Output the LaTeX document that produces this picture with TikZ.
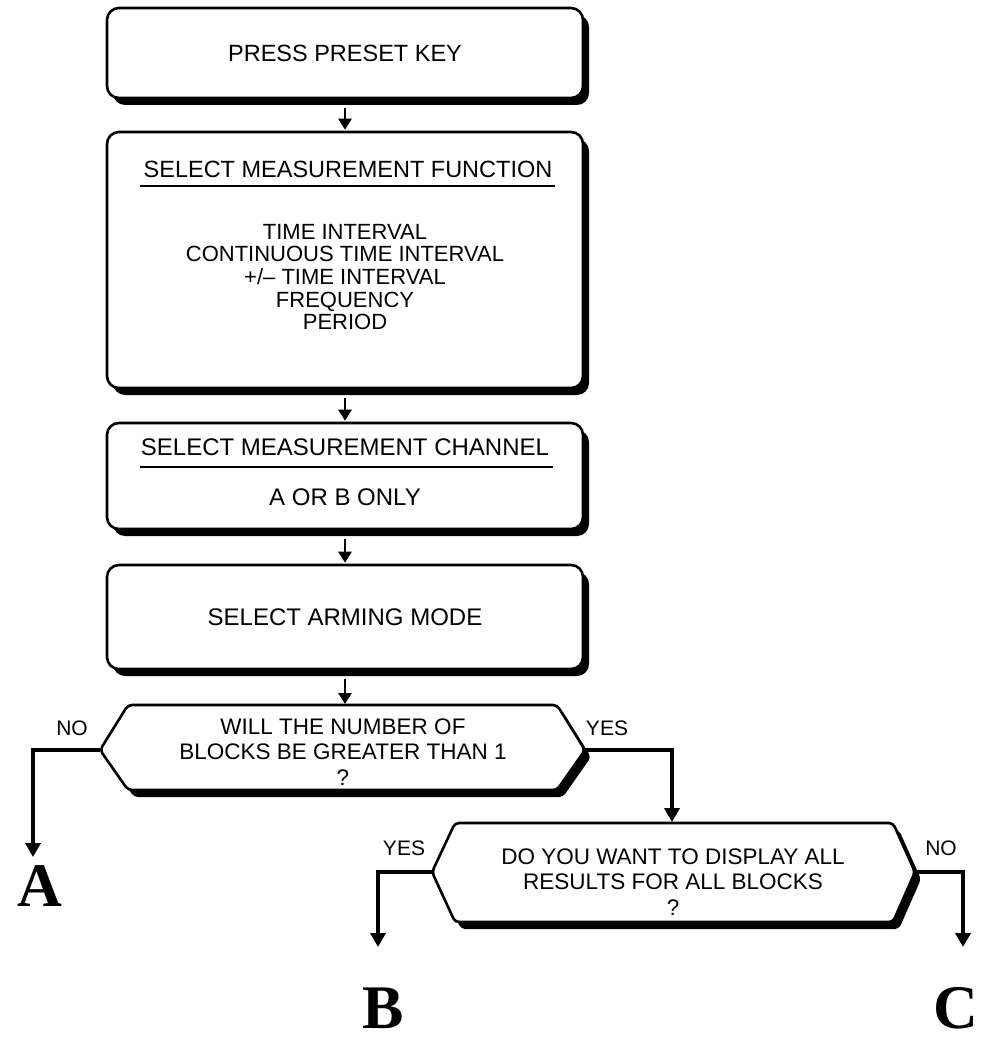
\documentclass[tikz,border=0pt]{standalone}
\usepackage{fontspec}
\setmainfont{Liberation Sans}
\newfontfamily\bigserif{Liberation Serif}
\usetikzlibrary{shadows,arrows.meta}
\begin{document}
\begin{tikzpicture}[x=1pt,y=-1pt,
  box/.style={draw, line width=2.6pt, rounded corners=12pt, fill=white,
    minimum width=476pt, inner sep=0pt,
    drop shadow={shadow xshift=6pt, shadow yshift=-7pt, fill=black, opacity=1}},
  txt/.style={font=\fontsize{23.5}{24}\selectfont, align=center, inner sep=0pt},
  btxt/.style={font=\fontsize{24}{25}\selectfont, align=center, inner sep=0pt},
  dtxt/.style={font=\fontsize{22.5}{25.5}\selectfont, align=center, inner sep=0pt},
  lbl/.style={font=\fontsize{21}{22}\selectfont, inner sep=0pt},
  big/.style={font=\bigserif\bfseries\fontsize{62}{62}\selectfont, inner sep=0pt},
  sarr/.style={line width=2.8pt, -{Triangle[width=13pt,length=11pt]}},
  barr/.style={line width=4.5pt, -{Triangle[width=15pt,length=14pt]}},
  hexshadow/.style={fill=black, rounded corners=4pt},
  hex/.style={draw, fill=white, line width=2.6pt, rounded corners=4pt},
  rulel/.style={line width=2.8pt}]
\useasboundingbox (0,0) rectangle (981,1040);

% box 1
\node[box, minimum height=90pt] (b1) at (345,53) {};
\node[txt] (t1) at (b1.center) {PRESS PRESET KEY};

% box 2
\node[box, minimum height=256pt] (b2) at (345,260) {};
\node[txt] (t2) at (348,169) {SELECT MEASUREMENT FUNCTION};
\coordinate (r2a) at (140,186);
\coordinate (r2b) at (555,186);
\draw[rulel] (r2a) -- (r2b);
\node[txt, font=\fontsize{22}{22.7}\selectfont] (t2l) at (345,277)
  {TIME INTERVAL\\CONTINUOUS TIME INTERVAL\\+/-- TIME INTERVAL\\FREQUENCY\\PERIOD};

% box 3
\node[box, minimum height=106pt] (b3) at (345,476) {};
\node[btxt] (t3) at (345,447) {SELECT MEASUREMENT CHANNEL};
\coordinate (r3a) at (140,467);
\coordinate (r3b) at (553,467);
\draw[rulel] (r3a) -- (r3b);
\node[btxt] (t3b) at (345,497) {A OR B ONLY};

% box 4
\node[box, minimum height=104pt] (b4) at (345,617) {};
\node[btxt] (t4) at (b4.center) {SELECT ARMING MODE};

% decision 1
\coordinate (d1L) at (100,750);
\coordinate (d1TL) at (128,705);
\coordinate (d1TR) at (557,705);
\coordinate (d1R) at (585,750);
\coordinate (d1BR) at (557,790);
\coordinate (d1BL) at (128,790);
\path[hexshadow, shift={(6,7)}] (100,750) -- (128,705) -- (557,705) -- (585,750) -- (557,790) -- (128,790) -- cycle;
\draw[hex] (d1L) -- (d1TL) -- (d1TR) -- (d1R) -- (d1BR) -- (d1BL) -- cycle;
\node[dtxt] (t5) at (343,752)
  {WILL THE NUMBER OF\\BLOCKS BE GREATER THAN 1\\?};
\node[lbl] (no1) at (72,728) {NO};
\node[lbl] (yes1) at (607,728) {YES};

% decision 2
\coordinate (d2L) at (432,872);
\coordinate (d2TL) at (455,823);
\coordinate (d2TR) at (893,823);
\coordinate (d2R) at (915,872);
\coordinate (d2BR) at (893,922);
\coordinate (d2BL) at (455,922);
\path[hexshadow, shift={(6,7)}] (432,872) -- (455,823) -- (893,823) -- (915,872) -- (893,922) -- (455,922) -- cycle;
\draw[hex] (d2L) -- (d2TL) -- (d2TR) -- (d2R) -- (d2BR) -- (d2BL) -- cycle;
\node[dtxt] (t6) at (673,882)
  {DO YOU WANT TO DISPLAY ALL\\RESULTS FOR ALL BLOCKS\\?};
\node[lbl] (yes2) at (404,848) {YES};
\node[lbl] (no2) at (941,848) {NO};

% end labels
\node[big] (A) at (40,886) {A};
\node[big] (B) at (383,1008) {B};
\node[big] (C) at (956,1008) {C};
\coordinate (aTip) at (33,857);
\coordinate (bTip) at (378,947);
\coordinate (cTip) at (963,947);

% arrows between steps
\draw[sarr, shorten <=9pt, shorten >=1pt] (b1.south) -- (b2.north);
\draw[sarr, shorten <=9pt, shorten >=1pt] (b2.south) -- (b3.north);
\draw[sarr, shorten <=9pt, shorten >=1pt] (b3.south) -- (b4.north);
\coordinate (d1top) at (345,705);
\draw[sarr, shorten <=9pt, shorten >=1pt] (b4.south) -- (d1top);

% branch connectors
\draw[barr] (d1L) -| (aTip);
\coordinate (d2in) at (672,822);
\draw[barr] (d1R) -| (d2in);
\draw[barr] (d2L) -| (bTip);
\draw[barr] (d2R) -| (cTip);
\end{tikzpicture}
\end{document}
